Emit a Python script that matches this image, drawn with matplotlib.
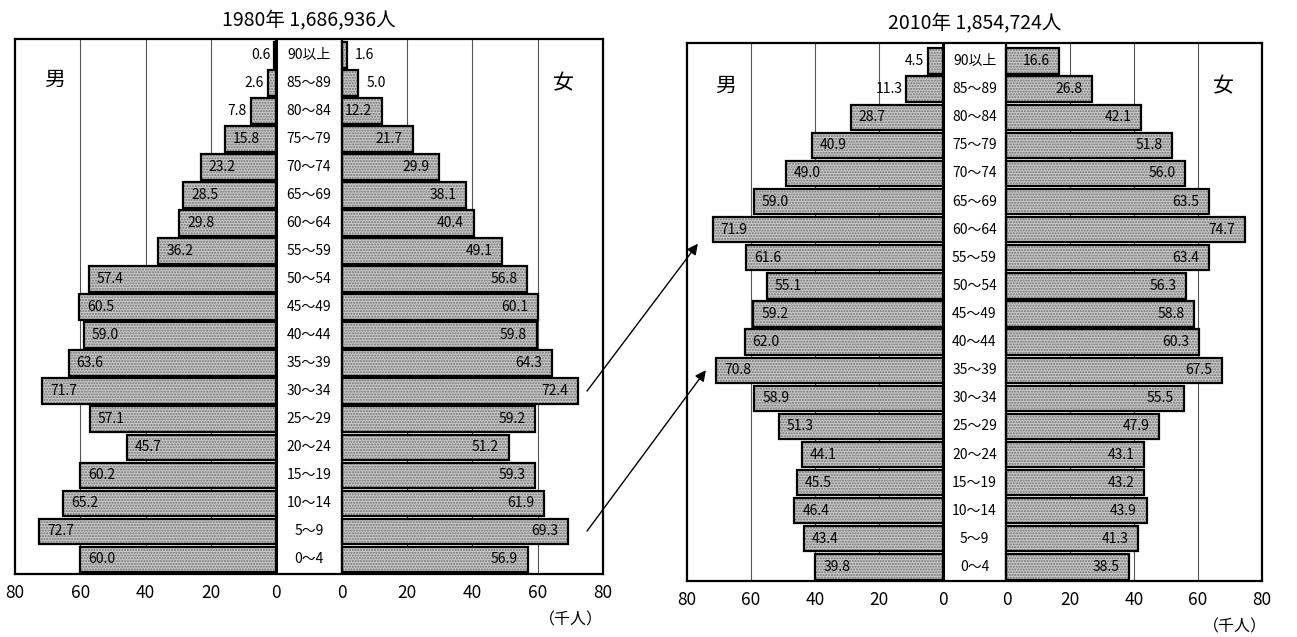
import matplotlib
matplotlib.use('Agg')
import matplotlib.pyplot as plt
import matplotlib.transforms as mtransforms
from matplotlib.patches import ConnectionPatch

plt.rcParams['font.family'] = ['Noto Sans CJK JP', 'DejaVu Sans']

age_groups = ['0～4', '5～9', '10～14', '15～19', '20～24', '25～29', '30～34',
              '35～39', '40～44', '45～49', '50～54', '55～59', '60～64',
              '65～69', '70～74', '75～79', '80～84', '85～89', '90以上']

male_1980 = [60.0, 72.7, 65.2, 60.2, 45.7, 57.1, 71.7, 63.6, 59.0, 60.5,
             57.4, 36.2, 29.8, 28.5, 23.2, 15.8, 7.8, 2.6, 0.6]
female_1980 = [56.9, 69.3, 61.9, 59.3, 51.2, 59.2, 72.4, 64.3, 59.8, 60.1,
               56.8, 49.1, 40.4, 38.1, 29.9, 21.7, 12.2, 5.0, 1.6]
male_2010 = [39.8, 43.4, 46.4, 45.5, 44.1, 51.3, 58.9, 70.8, 62.0, 59.2,
             55.1, 61.6, 71.9, 59.0, 49.0, 40.9, 28.7, 11.3, 4.5]
female_2010 = [38.5, 41.3, 43.9, 43.2, 43.1, 47.9, 55.5, 67.5, 60.3, 58.8,
               56.3, 63.4, 74.7, 63.5, 56.0, 51.8, 42.1, 26.8, 16.6]

titles = ['1980年 1,686,936人', '2010年 1,854,724人']
tick_values = [80, 60, 40, 20, 0]
unit_label = '（千人）'
male_label = '男'
female_label = '女'

G = 10.0      # half width of the centre label column (data units)
XMAX = 80.0
LBL = 10      # font size of value / age labels

fig = plt.figure(figsize=(12.97, 6.37), dpi=100)

ax1 = fig.add_axes([15/1297, 1-574/637, 588/1297, 535/637])
ax2 = fig.add_axes([687/1297, 1-581/637, 575/1297, 538/637])


def draw_panel(ax, male, female, title, ylim, title_y):
    y = list(range(len(age_groups)))
    male_w = [-v for v in male]
    # stippled fill
    ax.barh(y, male_w, left=-G, height=0.9, color='#cacaca',
            edgecolor='#707070', hatch='......', linewidth=0, zorder=2)
    ax.barh(y, female, left=G, height=0.9, color='#cacaca',
            edgecolor='#707070', hatch='......', linewidth=0, zorder=2)
    # outlines
    ax.barh(y, male_w, left=-G, height=0.9, facecolor='none',
            edgecolor='black', linewidth=1.6, zorder=3)
    ax.barh(y, female, left=G, height=0.9, facecolor='none',
            edgecolor='black', linewidth=1.6, zorder=3)

    # grid lines
    for v in (20, 40, 60):
        ax.axvline(-G - v, color='#555555', lw=0.8, zorder=1)
        ax.axvline(G + v, color='#555555', lw=0.8, zorder=1)
    ax.axvline(-G, color='black', lw=2.2, zorder=4)
    ax.axvline(G, color='black', lw=1.6, zorder=4)

    # value labels
    for yi, v in zip(y, male):
        end = -G - v
        if v < 12:
            ax.text(end - 1.2, yi, f'{v:.1f}', ha='right', va='center',
                    fontsize=LBL, zorder=5)
        else:
            ax.text(end + 2.5, yi, f'{v:.1f}', ha='left', va='center',
                    fontsize=LBL, zorder=5)
    for yi, v in zip(y, female):
        end = G + v
        if v < 10:
            ax.text(end + 2.5, yi, f'{v:.1f}', ha='left', va='center',
                    fontsize=LBL, zorder=5)
        else:
            ax.text(end - 3.0, yi, f'{v:.1f}', ha='right', va='center',
                    fontsize=LBL, zorder=5)

    # age labels
    for yi, lab in zip(y, age_groups):
        ax.text(0, yi, lab, ha='center', va='center', fontsize=LBL, zorder=5)

    ax.set_xlim(-G - XMAX, G + XMAX)
    ax.set_ylim(*ylim)
    ticks = [-G - t for t in tick_values] + [G + t for t in tick_values[::-1]]
    labels = [str(t) for t in tick_values] + [str(t) for t in tick_values[::-1]]
    ax.set_xticks(ticks)
    ax.set_xticklabels(labels, fontsize=12.5)
    ax.tick_params(axis='x', length=0, pad=7)
    ax.set_yticks([])
    for s in ax.spines.values():
        s.set_linewidth(1.6)
        s.set_color('black')
        s.set_zorder(6)

    trans = mtransforms.blended_transform_factory(ax.transData, ax.transAxes)
    ax.text(0, title_y, title, transform=trans, ha='center', va='center',
            fontsize=14)


draw_panel(ax1, male_1980, female_1980, titles[0], (-0.53, 18.57), 1.034)
draw_panel(ax2, male_2010, female_2010, titles[1], (-0.5, 18.64), 1.036)

ax1.text(-77.8, 17.1, male_label, ha='center', va='center', fontsize=15)
ax1.text(78.0, 17.0, female_label, ha='center', va='center', fontsize=15)
ax2.text(-78.0, 17.1, male_label, ha='center', va='center', fontsize=15)
ax2.text(78.0, 17.1, female_label, ha='center', va='center', fontsize=15)

fig.text(571/1297, 1-620/637, unit_label, ha='center', va='center', fontsize=11.5)
fig.text(1235/1297, 1-627/637, unit_label, ha='center', va='center', fontsize=11.5)

# arrows linking cohorts
for (xa, ya), (xb, yb) in [((85.1, 6.0), (-86.6, 11.5)),
                           ((85.1, 1.0), (-84.1, 7.0))]:
    con = ConnectionPatch(xyA=(xa, ya), coordsA=ax1.transData,
                          xyB=(xb, yb), coordsB=ax2.transData,
                          arrowstyle='-|>', mutation_scale=16, lw=1.0,
                          color='black', zorder=10)
    fig.add_artist(con)

fig.savefig('out.png', dpi=100)
